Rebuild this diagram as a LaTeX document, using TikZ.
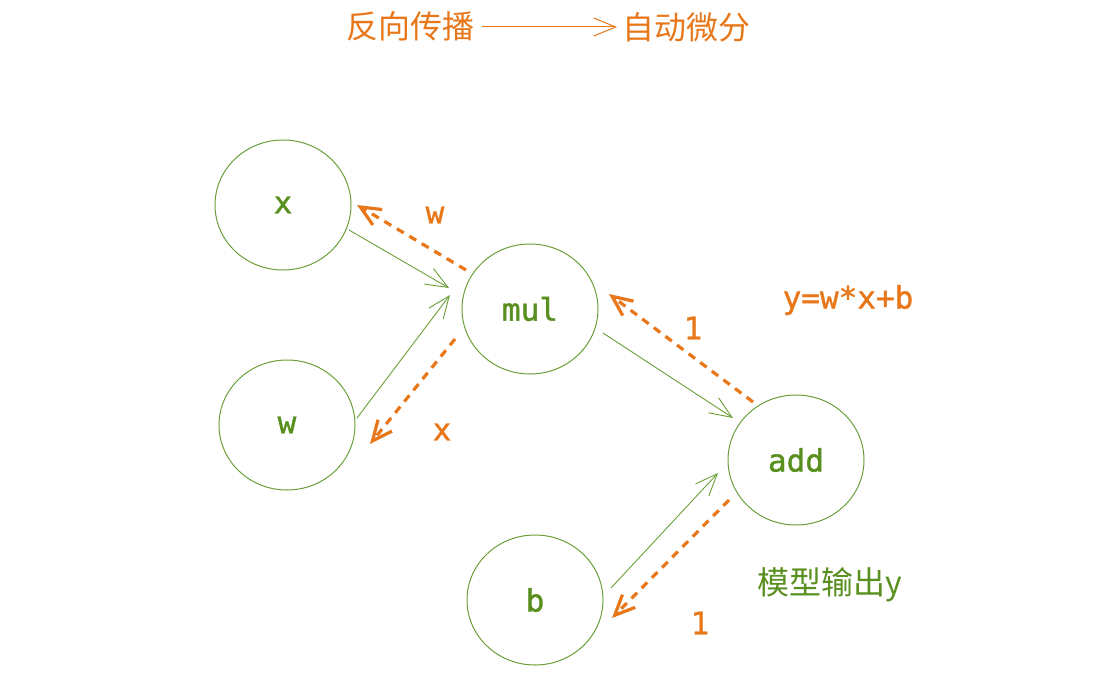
\documentclass[tikz,border=0pt]{standalone}
\usepackage{fontspec}
\newfontfamily\codefont[FakeBold=1.2]{DejaVu Sans Mono}
\newfontfamily\cjk{Noto Sans CJK SC}
\usetikzlibrary{shapes.geometric,arrows.meta,calc}
\definecolor{gline}{RGB}{106,159,55}
\definecolor{gtext}{RGB}{88,143,30}
\definecolor{orng}{RGB}{232,119,26}
\begin{document}
\begin{tikzpicture}[x=1pt,y=-1pt,
  vnode/.style={draw=gline, line width=1pt, ellipse, minimum width=136pt, minimum height=130pt, inner sep=0pt,
    text=gtext, font=\codefont\fontsize{31}{33}\selectfont},
  fwd/.style={draw=gline, line width=0.9pt, -{Straight Barb[length=22pt,width=18pt,line width=0.9pt]}},
  bwd/.style={draw=orng, line width=3.2pt, dash pattern=on 8pt off 6.5pt, -{Straight Barb[length=20pt,width=18pt,line width=3.2pt]}},
  olab/.style={text=orng, font=\codefont\fontsize{31}{33}\selectfont, inner sep=0pt},
  clab/.style={font=\cjk\fontsize{32}{34}\selectfont, inner sep=0pt}]
\useasboundingbox (0,0) rectangle (1100,687);
% nodes
\node[vnode] (x) at (283,205) {x};
\node[vnode] (w) at (287,425) {w};
\node[vnode] (mul) at (530,309) {mul};
\node[vnode] (add) at (796,460) {add};
\node[vnode] (b) at (535,600) {b};
% forward edges
\draw[fwd] ($(x)+(66,25)$) -- ($(mul)+(-81,-21)$);
\draw[fwd] ($(w)+(70,-7)$) -- ($(mul)+(-80,-14)$);
\draw[fwd] ($(mul)+(73,24)$) -- ($(add)+(-63,-42)$);
\draw[fwd] ($(b)+(76,-12)$) -- ($(add)+(-78,13)$);
% backward edges
\draw[bwd] ($(mul)+(-64,-39)$) -- ($(x)+(74,0)$);
\draw[bwd] ($(mul)+(-75,30)$) -- ($(w)+(83,19)$);
\draw[bwd] ($(add)+(-43,-58)$) -- ($(mul)+(79,-15)$);
\draw[bwd] ($(add)+(-67,40)$) -- ($(b)+(77,18)$);
% labels
\node[olab] (lw) at (435,215) {w};
\node[olab] (lx) at (442,432) {x};
\node[olab] (l1a) at (693,328) {1};
\node[olab] (l1b) at (700,623) {1};
\node[olab] (eq) at (848,300) {y=w*x+b};
\node[clab, text=gtext] (out) at (830,585) {模型输出y};
% title
\node[clab, text=orng] (t1) at (410,26) {反向传播};
\node[clab, text=orng] (t2) at (686,27) {自动微分};
\draw[draw=orng, line width=1pt, -{Straight Barb[length=22pt,width=18pt,line width=1pt]}] ($(t1)+(72,1)$) -- ($(t2)+(-69,0)$);
\end{tikzpicture}
\end{document}
